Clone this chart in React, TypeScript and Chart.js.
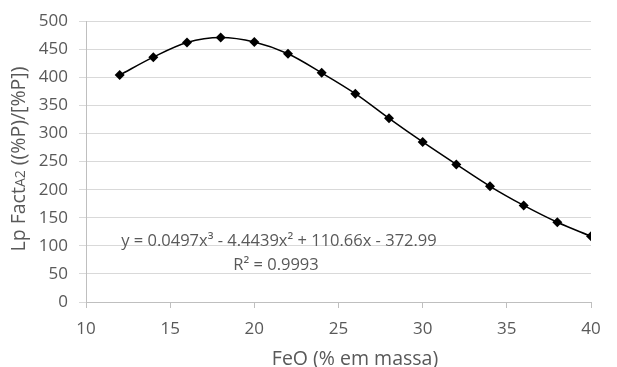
import React, { useEffect, useRef } from "react";
import { Chart, registerables } from "chart.js";

Chart.register(...registerables);

const feo = [12, 14, 16, 18, 20, 22, 24, 26, 28, 30, 32, 34, 36, 38, 40];
const lpFact = [404, 436, 462, 471, 463, 442, 408, 371, 327, 285, 245, 206, 172, 142, 117];
const equationLines = ["y = 0.0497x³ - 4.4439x² + 110.66x - 372.99", "R² = 0.9993"];
const xTitle = "FeO (% em massa)";
const yTitleParts = ["Lp Fact", "A2", " ((%P)/[%P])"];

const FONT = "'Open Sans', 'Noto Sans', sans-serif";
const TEXT = "#595959";

const textPlugin = {
  id: "textPlugin",
  afterDraw(chart: any) {
    const ctx = chart.ctx as CanvasRenderingContext2D;
    ctx.save();
    ctx.fillStyle = TEXT;
    // x title
    ctx.font = `19.5px ${FONT}`;
    ctx.textAlign = "center";
    ctx.textBaseline = "alphabetic";
    ctx.fillText(xTitle, 355, 365);
    // equation
    ctx.font = `16.5px ${FONT}`;
    ctx.fillText(equationLines[0], 279, 245.5);
    ctx.fillText(equationLines[1], 276, 269.5);
    // y title (rotated with small A2)
    ctx.translate(25, 159);
    ctx.rotate(-Math.PI / 2);
    ctx.textAlign = "left";
    const sizes = [19.5, 14, 19.5];
    let w = 0;
    const widths = yTitleParts.map((p, i) => {
      ctx.font = `${sizes[i]}px ${FONT}`;
      const m = ctx.measureText(p).width;
      w += m;
      return m;
    });
    let x = -w / 2;
    yTitleParts.forEach((p, i) => {
      ctx.font = `${sizes[i]}px ${FONT}`;
      ctx.fillText(p, x, 0);
      x += widths[i];
    });
    ctx.restore();
  },
};

export default function App() {
  const ref = useRef<HTMLCanvasElement>(null);
  useEffect(() => {
    if (!ref.current) return;
    const chart = new Chart(ref.current, {
      type: "line",
      data: {
        datasets: [
          {
            data: feo.map((x, i) => ({ x, y: lpFact[i] })),
            borderColor: "#000000",
            backgroundColor: "#000000",
            borderWidth: 1.5,
            cubicInterpolationMode: "monotone",
            pointStyle: "rectRot",
            pointRadius: 5,
            pointBorderWidth: 0,
            pointBackgroundColor: "#000000",
          },
        ],
      },
      options: {
        animation: false,
        responsive: true,
        maintainAspectRatio: false,
        layout: { padding: { top: 20, right: 26, left: 0, bottom: 0 } },
        plugins: { legend: { display: false }, tooltip: { enabled: false }, title: { display: false } },
        scales: {
          x: {
            type: "linear",
            min: 10,
            max: 40,
            ticks: { stepSize: 5, color: TEXT, font: { family: FONT, size: 17 }, padding: 11 },
            grid: { drawOnChartArea: false, drawTicks: true, tickLength: 6, color: "#bfbfbf" },
            border: { display: true, color: "#bfbfbf" },
            afterFit: (s: any) => {
              s.height = 65;
            },
          },
          y: {
            min: 0,
            max: 500,
            ticks: { stepSize: 50, color: TEXT, font: { family: FONT, size: 17 }, padding: 11 },
            grid: { color: "#d9d9d9", tickLength: 7, drawTicks: true },
            border: { display: true, color: "#bfbfbf" },
            afterFit: (s: any) => {
              s.width = 86;
            },
          },
        },
      },
      plugins: [textPlugin],
    });
    return () => chart.destroy();
  }, []);
  return (
    <div style={{ position: "fixed", left: 0, top: 0, width: 617, height: 367, background: "#fff" }}>
      <canvas ref={ref} />
    </div>
  );
}
